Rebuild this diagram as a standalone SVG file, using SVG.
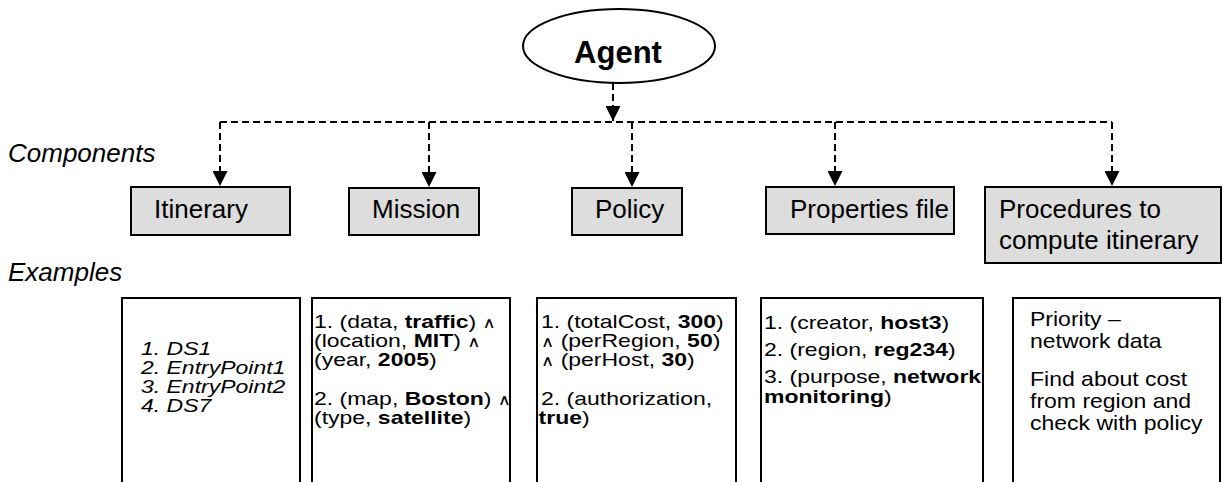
<svg xmlns="http://www.w3.org/2000/svg" width="1225" height="482" viewBox="0 0 1225 482">
<style>
text { font-family: "Liberation Sans", Arial, sans-serif; fill: #000; }
.comp { font-size: 26px; }
.lbl { font-size: 26px; font-style: italic; }
.ex { font-size: 19px; }
.ex2 { font-size: 20px; }
.it { font-style: italic; }
.b { font-weight: bold; }
.and { font-family: "DejaVu Sans", sans-serif; font-size: 15px; }
.box { fill: #dddddd; stroke: #000; stroke-width: 2; }
.exbox { fill: #ffffff; stroke: #000; stroke-width: 2; }
.conn { fill: none; stroke: #000; stroke-width: 2; stroke-dasharray: 7 4; }
</style>
<defs>
<marker id="arr" markerWidth="15" markerHeight="15" refX="15" refY="7.5" orient="auto" markerUnits="userSpaceOnUse">
<path d="M0,0 L15,7.5 L0,15 z" fill="#000"/>
</marker>
</defs>
<rect width="1225" height="482" fill="#fff"/>

<g id="agent">
<ellipse cx="619" cy="46" rx="96" ry="37" fill="#fff" stroke="#000" stroke-width="2"/>
<text x="618" y="63" text-anchor="middle" font-size="31" font-weight="bold">Agent</text>
</g>

<g id="connectors">
<path class="conn" d="M613,83 V121" marker-end="url(#arr)"/>
<path class="conn" d="M220,122 H1112"/>
<path class="conn" d="M220,122 V186" marker-end="url(#arr)"/>
<path class="conn" d="M429,122 V187" marker-end="url(#arr)"/>
<path class="conn" d="M632,122 V187" marker-end="url(#arr)"/>
<path class="conn" d="M835,122 V186" marker-end="url(#arr)"/>
<path class="conn" d="M1112,122 V186" marker-end="url(#arr)"/>
</g>

<g id="labels">
<text class="lbl" x="8" y="162">Components</text>
<text class="lbl" x="8" y="281">Examples</text>
</g>

<g id="itinerary">
<rect class="box" x="131" y="187" width="159" height="48"/>
<text class="comp" x="154" y="218">Itinerary</text>
</g>
<g id="mission">
<rect class="box" x="349" y="188" width="130" height="47"/>
<text class="comp" x="372" y="218">Mission</text>
</g>
<g id="policy">
<rect class="box" x="572" y="188" width="110" height="47"/>
<text class="comp" x="595" y="218">Policy</text>
</g>
<g id="properties">
<rect class="box" x="766" y="187" width="188" height="47"/>
<text class="comp" x="790" y="218">Properties file</text>
</g>
<g id="procedures">
<rect class="box" x="985" y="187" width="236" height="76"/>
<text class="comp" x="999" y="218">Procedures to</text>
<text class="comp" x="999" y="249">compute itinerary</text>
</g>

<g id="itinerary-example">
<rect class="exbox" x="122" y="298" width="178" height="220"/>
<g transform="translate(141,0) scale(1.21,1)">
<text class="ex it" x="0" y="355">1. DS1</text>
<text class="ex it" x="0" y="374">2. EntryPoint1</text>
<text class="ex it" x="0" y="393">3. EntryPoint2</text>
<text class="ex it" x="0" y="412">4. DS7</text>
</g>
</g>

<g id="mission-example">
<rect class="exbox" x="312" y="298" width="198" height="220"/>
<g transform="translate(314,0) scale(1.21,1)">
<text class="ex" x="0" y="328">1. (data, <tspan class="b">traffic</tspan>) <tspan class="and">∧</tspan></text>
<text class="ex" x="0" y="347">(location, <tspan class="b">MIT</tspan>) <tspan class="and">∧</tspan></text>
<text class="ex" x="0" y="366">(year, <tspan class="b">2005</tspan>)</text>
<text class="ex" x="0" y="405">2. (map, <tspan class="b">Boston</tspan>) <tspan class="and">∧</tspan></text>
<text class="ex" x="0" y="424">(type, <tspan class="b">satellite</tspan>)</text>
</g>
</g>

<g id="policy-example">
<rect class="exbox" x="537" y="298" width="199" height="220"/>
<g transform="translate(541,0) scale(1.21,1)">
<text class="ex" x="0" y="328">1. (totalCost, <tspan class="b">300</tspan>)</text>
<text class="ex" x="0" y="347"><tspan class="and">∧</tspan> (perRegion, <tspan class="b">50</tspan>)</text>
<text class="ex" x="0" y="366"><tspan class="and">∧</tspan> (perHost, <tspan class="b">30</tspan>)</text>
<text class="ex" x="0" y="405">2. (authorization,</text>
<text class="ex" x="-2" y="424"><tspan class="b">true</tspan>)</text>
</g>
</g>

<g id="properties-example">
<rect class="exbox" x="761" y="298" width="222" height="220"/>
<g transform="translate(764,0) scale(1.21,1)">
<text class="ex" x="0" y="329">1. (creator, <tspan class="b">host3</tspan>)</text>
<text class="ex" x="0" y="356">2. (region, <tspan class="b">reg234</tspan>)</text>
<text class="ex" x="0" y="383">3. (purpose, <tspan class="b">network</tspan></text>
<text class="ex" x="0" y="403"><tspan class="b">monitoring</tspan>)</text>
</g>
</g>

<g id="procedures-example">
<rect class="exbox" x="1013" y="298" width="207" height="220"/>
<g transform="translate(1030,0) scale(1.15,1)">
<text class="ex2" x="0" y="326">Priority –</text>
<text class="ex2" x="0" y="348">network data</text>
<text class="ex2" x="0" y="386">Find about cost</text>
<text class="ex2" x="0" y="408">from region and</text>
<text class="ex2" x="0" y="430">check with policy</text>
</g>
</g>
</svg>
